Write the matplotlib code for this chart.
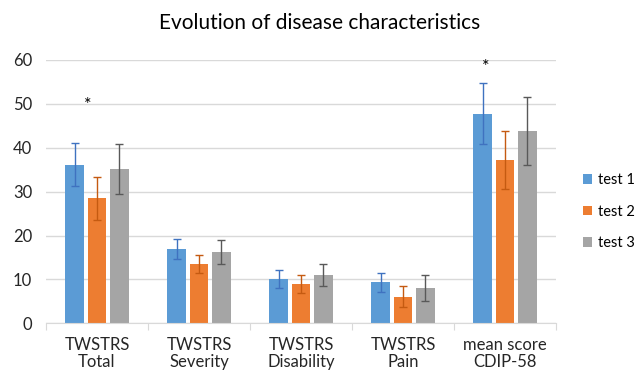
import numpy as np
import matplotlib.pyplot as plt

plt.rcParams['font.family'] = ['Lato', 'DejaVu Sans']

# Data
categories = ["TWSTRS\nTotal", "TWSTRS\nSeverity", "TWSTRS\nDisability",
              "TWSTRS\nPain", "mean score\nCDIP-58"]
series = ["test 1", "test 2", "test 3"]
test1 = [36.1, 16.9, 10.1, 9.3, 47.7]
test2 = [28.5, 13.5, 9.0, 6.1, 37.2]
test3 = [35.2, 16.3, 11.0, 8.0, 43.8]
err1 = [4.9, 2.35, 2.1, 2.25, 6.95]
err2 = [4.95, 2.1, 2.1, 2.4, 6.7]
err3 = [5.7, 2.7, 2.4, 3.0, 7.7]
# asterisks: (category index, height)
star_cats = [0, 4]
star_heights = [49.8, 58.3]

colors = ["#5B9BD5", "#ED7D31", "#A5A5A5"]
err_colors = ["#3F72C0", "#C55A11", "#595959"]

fig = plt.figure(figsize=(6.44, 3.70), dpi=100)
ax = fig.add_axes([46 / 644, (370 - 323.3) / 370, 510 / 644, 263.3 / 370])

x = np.arange(len(categories))
offsets = [-0.22, 0.0, 0.22]
for vals, errs, off, c, ec, lab in zip([test1, test2, test3], [err1, err2, err3],
                                      offsets, colors, err_colors, series):
    ax.bar(x + off, vals, width=0.18, color=c, label=lab, zorder=2)
    ax.errorbar(x + off, vals, yerr=errs, fmt='none', ecolor=ec,
                elinewidth=1.0, capsize=3, capthick=1.0, zorder=3)

star_dx = [-0.09, -0.19]
for i, h, dx in zip(star_cats, star_heights, star_dx):
    ax.text(i + dx, h, "*", ha='center', va='center', fontsize=13)

ax.set_xlim(-0.5, len(categories) - 0.5)
ax.set_ylim(0, 60)
ax.set_yticks(np.arange(0, 61, 10))
ax.yaxis.grid(True, color='#D9D9D9', linewidth=1.0, zorder=0)
ax.set_axisbelow(True)
for s in ['top', 'right', 'left']:
    ax.spines[s].set_visible(False)
ax.spines['bottom'].set_color('#D9D9D9')
ax.tick_params(axis='y', length=0, labelsize=12, colors='#262626', pad=10)
ax.set_xticks(np.arange(-0.5, len(categories), 1.0), minor=False)
ax.set_xticklabels([])
ax.tick_params(axis='x', which='major', length=5, color='#D9D9D9')
ax.set_xticks(x, minor=True)
ax.set_xticklabels(categories, minor=True, fontsize=12, color='#262626',
                   linespacing=1.1)
ax.tick_params(axis='x', which='minor', length=0, pad=10)

fig.text(320 / 644, 1 - 23 / 370, "Evolution of disease characteristics",
         ha='center', va='center', fontsize=15, color='#000000')

ax.legend(loc='center left', bbox_to_anchor=(537 / 510, 0.5 - 20 / 263.3),
          frameon=False, fontsize=10.5, handlelength=0.6, handleheight=0.6,
          handletextpad=0.4, labelspacing=1.2, borderaxespad=0, borderpad=0)

fig.savefig("out.png", dpi=100)
